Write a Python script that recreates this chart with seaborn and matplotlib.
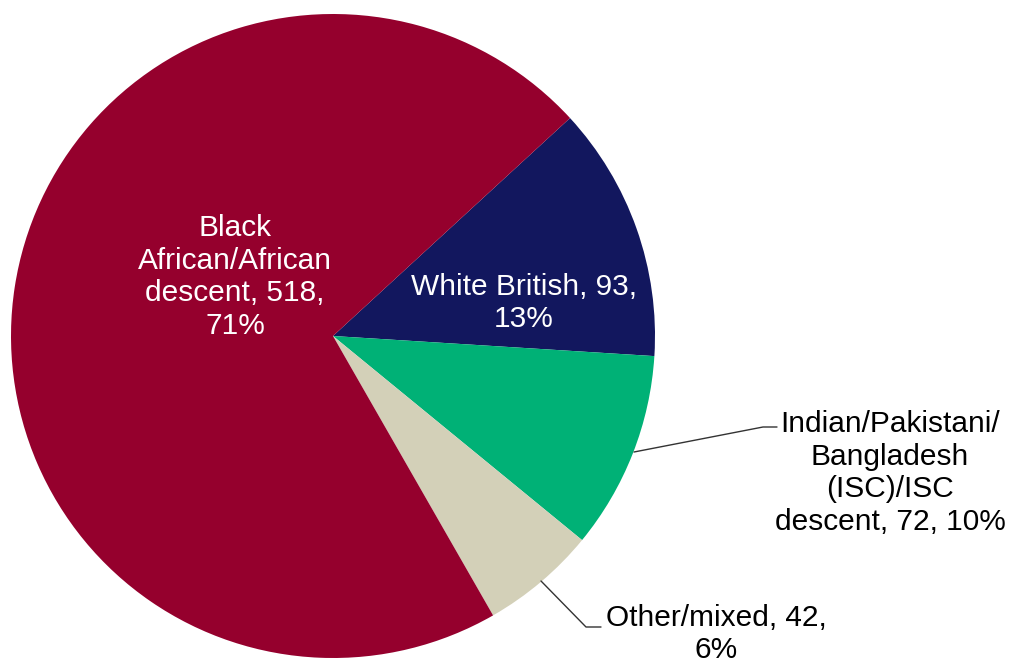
import matplotlib
matplotlib.use("Agg")
import matplotlib.pyplot as plt
import seaborn as sns

sns.set_theme(style="white")
plt.rcParams['font.family'] = ['Liberation Sans', 'DejaVu Sans']

# data, clockwise from the White British slice
groups = ["White British", "Indian/Pakistani/\nBangladesh\n(ISC)/ISC\ndescent",
          "Other/mixed", "Black\nAfrican/African\ndescent"]
counts = [93, 72, 42, 518]
colours = ["#12175E", "#00B176", "#D3D0B8", "#95002D"]

W, H = 1013, 664
fig = plt.figure(figsize=(W / 100, H / 100), dpi=100)
ax = fig.add_axes([0, 0, 1, 1])

cx, cy, r = 333, H - 336, 322
ax.pie(counts, colors=colours, startangle=42.6, counterclock=False,
       center=(cx, cy), radius=r, wedgeprops=dict(linewidth=0))

total = sum(counts)
pct = [round(c / total * 100) for c in counts]
fs = 21.5
ls = 1.22

# inside labels
ax.text(235, H - 277, f"{groups[3]}, {counts[3]},\n{pct[3]}%",
        ha="center", va="center", color="white", fontsize=fs, linespacing=ls)
ax.text(524, H - 303, f"{groups[0]}, {counts[0]},\n{pct[0]}%",
        ha="center", va="center", color="white", fontsize=fs, linespacing=ls)

# outside labels with leader lines
ax.text(890, H - 473, f"{groups[1]}, {counts[1]}, {pct[1]}%",
        ha="center", va="center", color="black", fontsize=fs, linespacing=ls)
ax.plot([634, 763, 777], [H - 452, H - 427, H - 427], color="#333333", lw=1)

ax.text(716, H - 634, f"{groups[2]}, {counts[2]},\n{pct[2]}%",
        ha="center", va="center", color="black", fontsize=fs, linespacing=ls)
ax.plot([541, 586, 601], [H - 581, H - 627, H - 627], color="#333333", lw=1)

ax.set_xlim(0, W)
ax.set_ylim(0, H)
ax.set_aspect("equal")
ax.axis("off")

fig.savefig("out.png", dpi=100, facecolor="white")
